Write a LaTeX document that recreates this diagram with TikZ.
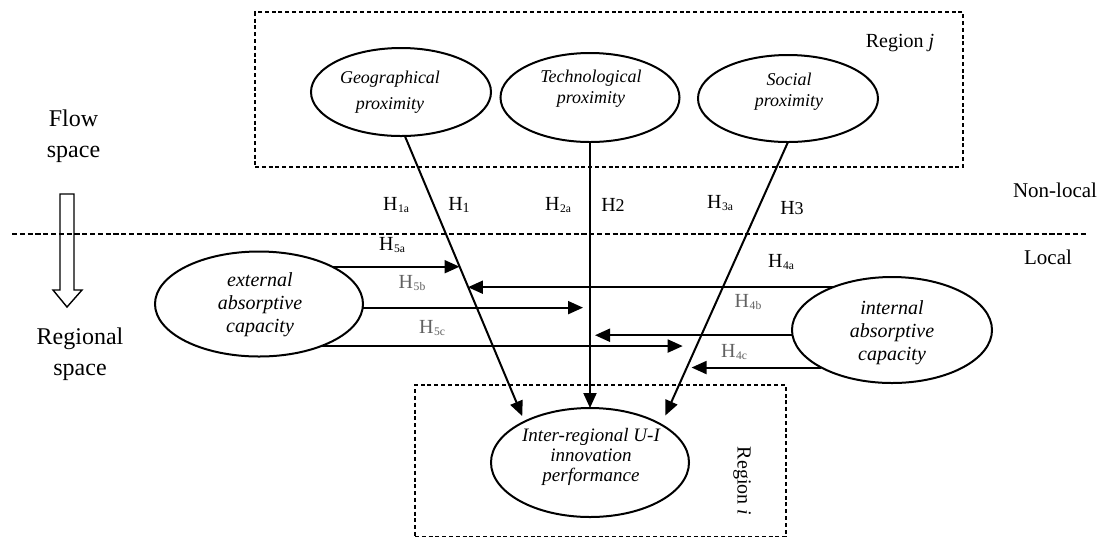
\documentclass[tikz,border=0pt]{standalone}
\usepackage{fontspec}
\setmainfont{Liberation Serif}
\usetikzlibrary{arrows.meta,shapes.geometric,calc}

% hypothesis label with a small lowered index, e.g. H_{1a}
\newcommand{\Hsub}[1]{H\kern0.3pt\raisebox{-1.3pt}{\fontsize{5.8}{6}\selectfont #1}}

\begin{document}
\begin{tikzpicture}[x=0.5pt,y=-0.5pt,
  oval/.style={ellipse, draw, line width=1pt, inner sep=0pt, outer sep=0pt},
  ovaltext/.style={align=center, inner sep=0pt, font=\fontsize{9}{10.5}\selectfont\itshape},
  regionbox/.style={draw, line width=0.7pt, dash pattern=on 2pt off 1.4pt, inner sep=0pt, outer sep=0pt},
  arr/.style={line width=1pt, -{Triangle[length=7.5pt,width=6.5pt]}},
  hlab/.style={font=\fontsize{10}{12}\selectfont, inner sep=0pt},
  hlabgray/.style={hlab, text=black!62},
  side/.style={align=center, inner sep=0pt, font=\fontsize{12}{15.5}\selectfont},
  zone/.style={inner sep=0pt, font=\fontsize{10.5}{12}\selectfont},
]
\useasboundingbox (0,0) rectangle (1099,538);

% regions j and i
\node[regionbox, minimum width=354pt, minimum height=77.5pt] (boxj) at (609,89.5) {};
\node[regionbox, minimum width=185.5pt, minimum height=75.75pt] (boxi) at (600.5,460.75) {};
\node[zone, font=\fontsize{10}{12}\selectfont] (rj) at (900,43) {Region \textit{j}};
\node[zone, font=\fontsize{10}{12}\selectfont, rotate=-90] (ri) at (742,481) {Region \textit{i}};

% flow space / regional space
\node[side] (flow) at (73.5,136) {Flow\\space};
\node[side] (regional) at (80,354) {Regional\\space};
\draw[line width=0.7pt] (60,194) -- (74,194) -- (74,290) -- (82,290) -- (67,307)
  -- (53,290) -- (60,290) -- cycle;

% non-local / local divider
\coordinate (divL) at (12,234);
\coordinate (divR) at (1088,234);
\draw[line width=0.9pt, dash pattern=on 2.6pt off 1.3pt] (divL) -- (divR);
\node[zone] (nonlocal) at (1055,190) {Non-local};
\node[zone] (local) at (1048,257) {Local};

% constructs
\node[oval, minimum width=90pt, minimum height=44pt] (geo) at (401,92) {};
\node[ovaltext, font=\fontsize{9}{13}\selectfont\itshape] (geotext) at (390,92) {Geographical\\proximity};
\node[oval, minimum width=89.5pt, minimum height=44.5pt] (tech) at (590,97.5) {};
\node[ovaltext] (techtext) at (591,88.5) {Technological\\proximity};
\node[oval, minimum width=90pt, minimum height=43.5pt] (social) at (788,98.5) {};
\node[ovaltext] (socialtext) at (789,92) {Social\\proximity};
\node[oval, minimum width=104pt, minimum height=52.5pt] (ext) at (259,304) {};
\node[ovaltext, font=\fontsize{10}{11.5}\selectfont\itshape] (exttext) at (260,305) {external\\absorptive\\capacity};
\node[oval, minimum width=100pt, minimum height=53pt] (int) at (892,330) {};
\node[ovaltext, font=\fontsize{10}{11.5}\selectfont\itshape] (inttext) at (892,333) {internal\\absorptive\\capacity};
\node[oval, minimum width=99pt, minimum height=54.5pt] (target) at (590,462.5) {};
\node[ovaltext, font=\fontsize{9.5}{10}\selectfont\itshape] (targettext) at (591,457) {Inter-regional U-I\\innovation\\performance};

% direct effects
\draw[arr, shorten >=3pt] (geo.-85) -- (target.148);
\draw[arr] (tech.south) -- (target.north);
\draw[arr, shorten >=5pt] (social.south) -- (target.28);

% points on the direct-effect lines hit by the moderating arrows
\coordinate (p5a) at ($(geo.-85)!0.457!(target.148)$);
\coordinate (p4a) at ($(geo.-85)!0.527!(target.148)$);
\coordinate (p5c) at ($(social.south)!0.72!(target.28)$);
\coordinate (p4c) at ($(social.south)!0.80!(target.28)$);

% moderating effects
\draw[arr] (ext.27) -- (ext.27 -| p5a);
\draw[arr] (int.144) -- (int.144 -| p4a);
\draw[arr, shorten >=3.5pt] (ext.-2) -- (ext.-2 -| tech.south);
\draw[arr, shorten >=2.5pt] (int.183) -- (int.183 -| tech.south);
\draw[arr, shorten >=7pt] (ext.-34) -- (ext.-34 -| p5c);
\draw[arr, shorten >=2.5pt] (int.208) -- (int.208 -| p4c);

% hypothesis labels
\node[hlab] (h1a) at (396,205) {\Hsub{1a}};
\node[hlab] (h1) at (459,205) {H\raisebox{-0.8pt}{\fontsize{7}{8}\selectfont 1}};
\node[hlab] (h2a) at (558,205) {\Hsub{2a}};
\node[hlab] (h2) at (613,205) {H{\fontsize{9}{10}\selectfont 2}};
\node[hlab] (h3a) at (720,203) {\Hsub{3a}};
\node[hlab] (h3) at (792,208) {H{\fontsize{9}{10}\selectfont 3}};
\node[hlab] (h5a) at (392,245) {\Hsub{5a}};
\node[hlabgray] (h5b) at (412,283) {\Hsub{5b}};
\node[hlabgray] (h5c) at (432,328) {\Hsub{5c}};
\node[hlab] (h4a) at (781,262) {\Hsub{4a}};
\node[hlabgray] (h4b) at (748,302) {\Hsub{4b}};
\node[hlabgray] (h4c) at (734,352) {\Hsub{4c}};
\end{tikzpicture}
\end{document}
